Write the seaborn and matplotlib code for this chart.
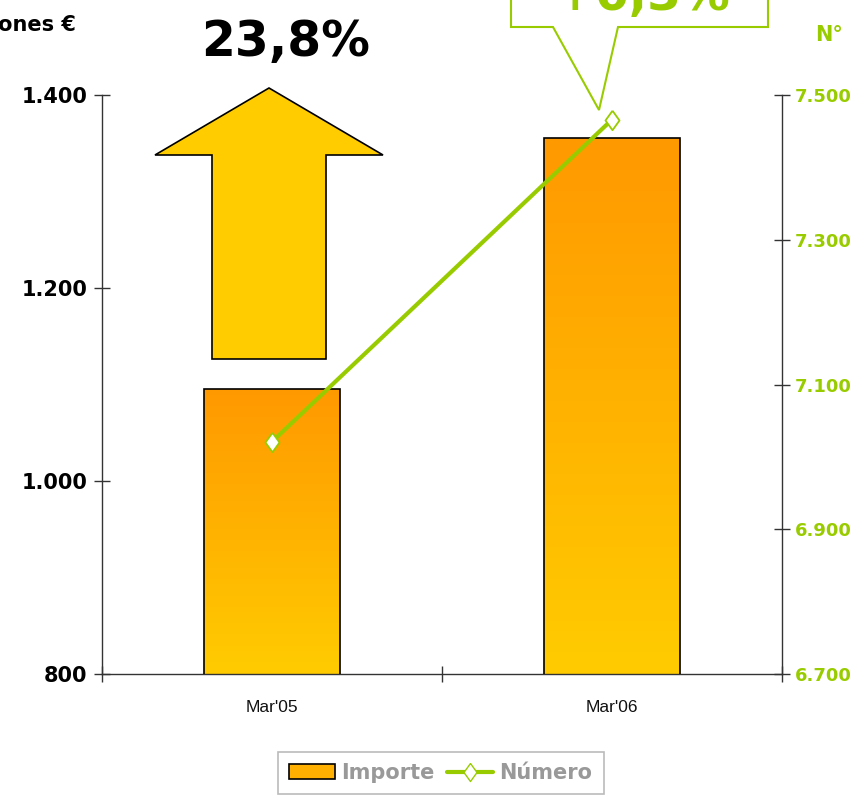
import numpy as np
import pandas as pd
import matplotlib
matplotlib.use('Agg')
import matplotlib.pyplot as plt
import matplotlib.patches as mpatches
from matplotlib.lines import Line2D
from matplotlib.colors import LinearSegmentedColormap
import seaborn as sns

# Data
periods = ["Mar'05", "Mar'06"]
importe = [1095, 1355]      # millones de euros
numero = [7021, 7466]       # nº
left_ticks = [800, 1000, 1200, 1400]
right_ticks = [6700, 6900, 7100, 7300, 7500]
pct_importe = "23,8%"
pct_numero = "+6,3%"

GREEN = '#99cc00'
ORANGE = '#ff9900'
YELLOW = '#ffcc00'
# diamond a bit taller than wide, like the original marker
DIAMOND = [(0, 1), (0.72, 0), (0, -1), (-0.72, 0), (0, 1)]

sns.set_theme(style='white')
plt.rcParams['font.family'] = ['DejaVu Sans']

df = pd.DataFrame({'periodo': periods, 'importe': importe})

W, H = 862, 810
fig = plt.figure(figsize=(W / 100, H / 100), dpi=100)
ax = fig.add_axes([102 / W, 1 - 674 / H, 680 / W, 579 / H])

sns.barplot(data=df, x='periodo', y='importe', ax=ax, width=0.4,
            color=ORANGE, saturation=1, edgecolor='black', linewidth=1.2)

# vertical orange -> yellow gradient inside each bar
cmap = LinearSegmentedColormap.from_list('grad', [YELLOW, ORANGE])
grad = np.linspace(0, 1, 256).reshape(-1, 1)
for p in ax.patches:
    x0, w, h = p.get_x(), p.get_width(), p.get_height()
    im = ax.imshow(grad, cmap=cmap, aspect='auto', origin='lower',
                   extent=(x0, x0 + w, 800, h), zorder=2)
    im.set_clip_path(p)
    p.set_facecolor('none')
    p.set_zorder(3)
ax.set_ylim(800, 1400)
ax.set_xlim(-0.5, 1.5)

ax.set_xlabel('')
ax.set_ylabel('')
ax.set_yticks(left_ticks)
ax.set_yticklabels([f"{v:,}".replace(',', '.') for v in left_ticks])
ax.set_xticks([-0.5, 0.5, 1.5])
ax.set_xticklabels(['', '', ''])
ax.set_xticks([0, 1], minor=True)
ax.set_xticklabels(periods, minor=True, fontsize=12.5, family='Liberation Sans', color='#111111')
ax.tick_params(axis='y', direction='inout', length=11, width=1, color='#333333',
               labelsize=15, labelcolor='black', pad=5, left=True)
for t in ax.get_yticklabels():
    t.set_fontweight('bold')
ax.tick_params(axis='x', which='major', direction='inout', length=11, width=1,
               color='#333333', bottom=True)
ax.tick_params(axis='x', which='minor', length=0, pad=19)
for s in ['top', 'right']:
    ax.spines[s].set_visible(False)
for s in ['left', 'bottom']:
    ax.spines[s].set_color('#333333')
    ax.spines[s].set_linewidth(1)

# second axis for número
ax2 = ax.twinx()
sns.lineplot(x=np.arange(len(periods)), y=numero, ax=ax2, color=GREEN, linewidth=3,
             marker=DIAMOND, markersize=14, markerfacecolor='white',
             markeredgecolor=GREEN, markeredgewidth=1.3, zorder=5)
ax2.set_ylim(6700, 7500)
ax2.set_xlim(-0.5, 1.5)
ax2.set_yticks(right_ticks)
ax2.set_yticklabels([f"{v:,}".replace(',', '.') for v in right_ticks])
ax2.tick_params(axis='y', direction='inout', length=11, width=1, color='#333333',
                labelcolor=GREEN, labelsize=13, pad=4, right=True)
for t in ax2.get_yticklabels():
    t.set_fontweight('bold')
for s in ['top', 'left', 'bottom']:
    ax2.spines[s].set_visible(False)
ax2.spines['right'].set_color('#333333')
ax2.spines['right'].set_linewidth(1)
ax2.set_ylabel('')


def fx(px):
    return px / W


def fy(py):
    return 1 - py / H


# big up arrow for the importe growth
arrow_px = [(269, 88), (383, 155), (326, 155), (326, 359), (212, 359), (212, 155), (155, 155)]
fig.patches.append(mpatches.Polygon([(fx(x), fy(y)) for x, y in arrow_px], closed=True,
                                    facecolor=YELLOW, edgecolor='black', linewidth=1.2,
                                    transform=fig.transFigure, figure=fig))
fig.text(fx(286), fy(42), pct_importe, ha='center', va='center', fontsize=35,
         fontweight='bold', color='black')

# callout for the número growth
call_px = [(511, -60), (768, -60), (768, 27), (618, 27), (599, 110), (553, 27), (511, 27)]
fig.patches.append(mpatches.Polygon([(fx(x), fy(y)) for x, y in call_px], closed=True,
                                    facecolor='white', edgecolor=GREEN, linewidth=1.5,
                                    transform=fig.transFigure, figure=fig))
fig.text(fx(643), fy(10), pct_numero, ha='center', va='baseline', fontsize=35,
         fontweight='bold', color=GREEN)

fig.text(fx(76), fy(25), 'Millones €', ha='right', va='center', fontsize=15,
         fontweight='bold', color='black')
fig.text(fx(829), fy(35), 'N°', ha='center', va='center', fontsize=15,
         fontweight='bold', color=GREEN)

handles = [mpatches.Patch(facecolor='#ffb000', edgecolor='black', linewidth=1.2),
           Line2D([], [], color=GREEN, linewidth=3, marker=DIAMOND, markersize=13,
                  markerfacecolor='white', markeredgecolor=GREEN)]
leg = fig.legend(handles, ['Importe', 'Número'], loc='center',
                 bbox_to_anchor=(fx(441), fy(773)), ncol=2, frameon=True,
                 fancybox=False, edgecolor='#aaaaaa',
                 handlelength=2.2, handletextpad=0.3, columnspacing=0.6,
                 borderpad=0.55, prop={'weight': 'bold', 'size': 15},
                 labelcolor='#999999')
leg.get_frame().set_linewidth(1.2)

fig.savefig('out.png', dpi=100)
